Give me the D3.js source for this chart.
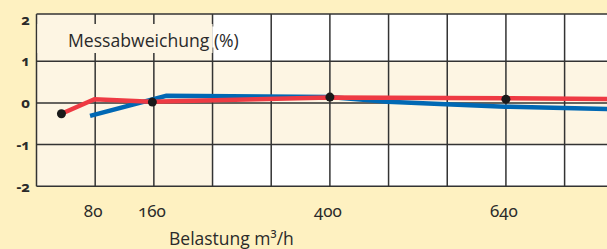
<!DOCTYPE html>
<meta charset="utf-8">
<script src="https://d3js.org/d3.v7.min.js"></script>
<style>
  body { margin: 0; background: #fef1c1; }
  text { font-family: "Open Sans", "Noto Sans", sans-serif; fill: #2a2a2a; }
  .num { font-family: "Noto Sans", sans-serif; font-variant-numeric: oldstyle-nums; font-feature-settings: "onum"; }
</style>
<div id="chart"></div>
<script>
    // data
    var xTicks = [80, 160, 400, 640];
    var yTicks = [2, 1, 0, -1, -2];
    var dotX = [34, 158, 400, 640];
    var dotY = [-0.26, 0.02, 0.14, 0.09];
    var redX = [34, 79, 157, 399, 639, 790];
    var redY = [-0.26, 0.09, 0.03, 0.13, 0.11, 0.09];
    var blueX = [73, 177, 399, 479, 558, 639, 719, 790];
    var blueY = [-0.31, 0.17, 0.14, 0.03, -0.03, -0.09, -0.12, -0.15];

    var W = 607, H = 249;
    var svg = d3.select("#chart").append("svg")
        .attr("width", W).attr("height", H);

    var x = d3.scaleLinear().domain([0, 720]).range([36.5, 564.6]);
    var y = d3.scaleLinear().domain([-2, 2]).range([186.3, 19.5]);
    var yTop = 2.13, xEnd = 800;

    // plot background: cream, white corners right of 240
    svg.append("rect")
        .attr("x", x(0)).attr("y", y(yTop))
        .attr("width", x(xEnd) - x(0)).attr("height", y(-2) - y(yTop))
        .attr("fill", "#fdf5e3");
    [[1, yTop], [-2, -1]].forEach(function (b) {
        svg.append("rect")
            .attr("x", x(240)).attr("y", y(b[1]))
            .attr("width", x(xEnd) - x(240)).attr("height", y(b[0]) - y(b[1]))
            .attr("fill", "#ffffff");
    });

    // grid
    var grid = svg.append("g").attr("stroke", "#333").attr("stroke-width", 1.5);
    d3.range(0, xEnd + 1, 80).forEach(function (v) {
        grid.append("line")
            .attr("x1", x(v)).attr("x2", x(v))
            .attr("y1", y(yTop)).attr("y2", y(-2));
    });
    [yTop, 1, 0, -1, -2].forEach(function (v) {
        grid.append("line")
            .attr("x1", x(0)).attr("x2", x(xEnd))
            .attr("y1", y(v)).attr("y2", y(v));
    });

    // y labels
    svg.append("g").selectAll("text").data(yTicks).enter().append("text")
        .attr("class", "num")
        .attr("x", 30).attr("y", function (d) { return y(d); })
        .attr("dy", "0.35em")
        .attr("text-anchor", "end")
        .attr("font-size", 15).attr("font-weight", 700)
        .text(function (d) { return d; });

    // x labels
    svg.append("g").selectAll("text").data(xTicks).enter().append("text")
        .attr("class", "num")
        .attr("x", function (d) { return x(d) - 2; }).attr("y", 217)
        .attr("text-anchor", "middle")
        .attr("font-size", 17)
        .text(function (d) { return d; });

    // title with its own background patch
    svg.append("rect").attr("x", x(0) + 1).attr("y", 24)
        .attr("width", x(240) - x(0) - 1).attr("height", 29).attr("fill", "#fdf5e3");
    svg.append("rect").attr("x", x(240) - 0.2).attr("y", 26.5)
        .attr("width", 34).attr("height", 21).attr("fill", "#ffffff");
    svg.append("text").attr("x", 68).attr("y", 46.5)
        .attr("font-size", 17.6).text("Messabweichung (%)");
    svg.append("text").attr("x", 169).attr("y", 245)
        .attr("font-size", 17.5).text("Belastung m³/h");

    // lines
    var line = d3.line().x(function (d) { return x(d[0]); }).y(function (d) { return y(d[1]); });
    svg.append("clipPath").attr("id", "clip").append("rect")
        .attr("x", x(0)).attr("y", 0).attr("width", W).attr("height", H);
    svg.append("path").datum(d3.zip(blueX, blueY))
        .attr("d", line).attr("fill", "none")
        .attr("stroke", "#0068b4").attr("stroke-width", 4.5)
        .attr("clip-path", "url(#clip)");
    svg.append("path").datum(d3.zip(redX, redY))
        .attr("d", line).attr("fill", "none")
        .attr("stroke", "#ee3a43").attr("stroke-width", 4.5)
        .attr("clip-path", "url(#clip)");

    svg.append("g").selectAll("circle").data(d3.zip(dotX, dotY)).enter().append("circle")
        .attr("cx", function (d) { return x(d[0]); })
        .attr("cy", function (d) { return y(d[1]); })
        .attr("r", 4.5).attr("fill", "#1a1a1a");
</script>
